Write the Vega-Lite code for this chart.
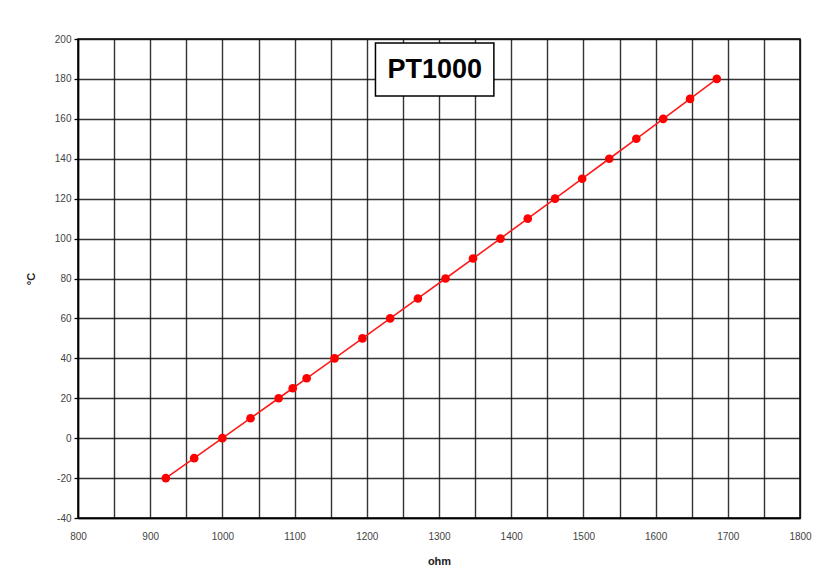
{
  "$schema": "https://vega.github.io/schema/vega-lite/v6.json",
  "autosize": "none",
  "width": 722,
  "height": 479,
  "padding": {"left": 78, "top": 39, "right": 19, "bottom": 51},
  "background": "white",
  "config": {
    "view": {"stroke": "black", "strokeWidth": 1.5},
    "font": "Liberation Sans"
  },
  "layer": [
    {
      "data": {"values": [
        {"ohm": 921.6, "c": -20}, {"ohm": 960.9, "c": -10}, {"ohm": 1000, "c": 0},
        {"ohm": 1039, "c": 10}, {"ohm": 1077.9, "c": 20}, {"ohm": 1097.4, "c": 25},
        {"ohm": 1116.7, "c": 30}, {"ohm": 1155.4, "c": 40}, {"ohm": 1194, "c": 50},
        {"ohm": 1232.4, "c": 60}, {"ohm": 1270.8, "c": 70}, {"ohm": 1309, "c": 80},
        {"ohm": 1347.1, "c": 90}, {"ohm": 1385.1, "c": 100}, {"ohm": 1422.9, "c": 110},
        {"ohm": 1460.7, "c": 120}, {"ohm": 1498.3, "c": 130}, {"ohm": 1535.8, "c": 140},
        {"ohm": 1573.3, "c": 150}, {"ohm": 1610.5, "c": 160}, {"ohm": 1647.7, "c": 170},
        {"ohm": 1684.8, "c": 180}
      ]},
      "mark": {"type": "line", "color": "#ff1a1a", "strokeWidth": 1.6, "point": {"filled": true, "color": "#ff0000", "size": 75, "opacity": 1}},
      "encoding": {
        "x": {"field": "ohm", "type": "quantitative",
          "scale": {"domain": [800, 1800], "nice": false, "zero": false},
          "axis": {"title": "ohm", "titleFontWeight": "bold", "titleFontSize": 11, "titleColor": "#222",
            "titlePadding": 14, "tickCount": 100,
            "values": [800, 850, 900, 950, 1000, 1050, 1100, 1150, 1200, 1250, 1300, 1350, 1400, 1450, 1500, 1550, 1600, 1650, 1700, 1750, 1800],
            "labelExpr": "datum.value % 100 == 0 ? '' + datum.value : ''",
            "ticks": false, "labelPadding": 13, "labelFontSize": 10, "labelColor": "#444",
            "labelFlush": false,
            "grid": true, "gridColor": "#111", "gridWidth": 1.4, "gridOpacity": 0.85,
            "domainColor": "black", "domainWidth": 1.5, "labelOverlap": false}},
        "y": {"field": "c", "type": "quantitative",
          "scale": {"domain": [-40, 200], "nice": false},
          "axis": {"title": "°C", "titleFontWeight": "bold", "titleFontSize": 11, "titleColor": "#222",
            "titlePadding": 18, "tickCount": 100,
            "values": [-40, -20, 0, 20, 40, 60, 80, 100, 120, 140, 160, 180, 200],
            "labelExpr": "'' + datum.value",
            "tickSize": 4, "tickColor": "black", "tickWidth": 1.3,
            "labelFontSize": 10, "labelColor": "#444", "labelPadding": 3,
            "labelFlush": false, "labelOverlap": false,
            "grid": true, "gridColor": "#111", "gridWidth": 1.4, "gridOpacity": 0.85,
            "domainColor": "black", "domainWidth": 1.5}}
      }
    },
    {
      "data": {"values": [{"x1": 1212, "x2": 1376, "y1": 171.5, "y2": 198}]},
      "mark": {"type": "rect", "fill": "white", "stroke": "black", "strokeWidth": 1.5},
      "encoding": {
        "x": {"field": "x1", "type": "quantitative"},
        "x2": {"field": "x2"},
        "y": {"field": "y1", "type": "quantitative"},
        "y2": {"field": "y2"}
      }
    },
    {
      "data": {"values": [{"x": 1294, "y": 184.5, "label": "PT1000"}]},
      "mark": {"type": "text", "fontSize": 27, "fontWeight": "bold", "color": "black", "baseline": "middle", "align": "center"},
      "encoding": {
        "x": {"field": "x", "type": "quantitative"},
        "y": {"field": "y", "type": "quantitative"},
        "text": {"field": "label"}
      }
    }
  ]
}
